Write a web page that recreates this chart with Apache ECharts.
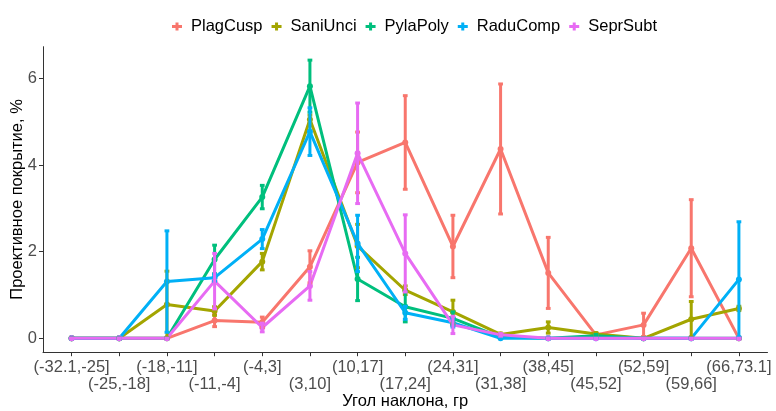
<!DOCTYPE html>
<html>
<head>
<meta charset="utf-8">
<script src="https://cdn.jsdelivr.net/npm/echarts@6/dist/echarts.min.js"></script>
<style>
html,body{margin:0;padding:0;background:#fff;}
#chart{width:776px;height:411px;}
</style>
</head>
<body>
<div id="chart"></div>
<script>
// ---- data ----
const categories = ['(-32.1,-25]','(-25,-18]','(-18,-11]','(-11,-4]','(-4,3]','(3,10]','(10,17]','(17,24]','(24,31]','(31,38]','(38,45]','(45,52]','(52,59]','(59,66]','(66,73.1]'];
const seriesNames = ['PlagCusp','SaniUnci','PylaPoly','RaduComp','SeprSubt'];

const plagCusp   = [0, 0, 0, 0.41, 0.37, 1.65, 4.06, 4.52, 2.12, 4.37, 1.51, 0.08, 0.31, 2.08, 0];
const plagCuspSe = [0, 0, 0, 0.14, 0.12, 0.37, 0.70, 1.08, 0.72, 1.50, 0.82, 0.03, 0.27, 1.12, 0];

const saniUnci   = [0, 0, 0.78, 0.63, 1.77, 5.05, 2.13, 1.11, 0.61, 0.09, 0.25, 0.10, 0, 0.44, 0.69];
const saniUnciSe = [0, 0, 0.77, 0.10, 0.19, 0.10, 0.50, 0.10, 0.27, 0.03, 0.13, 0.03, 0, 0.41, 0.05];

const pylaPoly   = [0, 0, 0, 1.82, 3.26, 5.82, 1.37, 0.73, 0.46, 0.03, 0, 0.06, 0, 0, 0];
const pylaPolySe = [0, 0, 0, 0.33, 0.27, 0.60, 0.50, 0.35, 0.15, 0.02, 0, 0.03, 0, 0, 0];

const raduComp   = [0, 0, 1.31, 1.40, 2.29, 4.77, 2.19, 0.59, 0.36, 0, 0, 0, 0, 0, 1.36];
const raduCompSe = [0, 0, 1.17, 0.08, 0.22, 0.55, 0.65, 0.15, 0.10, 0, 0, 0, 0, 0, 1.33];

const seprSubt   = [0, 0, 0, 1.32, 0.25, 1.21, 4.27, 1.96, 0.31, 0.08, 0, 0, 0, 0, 0];
const seprSubtSe = [0, 0, 0, 0.64, 0.10, 0.33, 1.16, 0.89, 0.20, 0.03, 0, 0, 0, 0, 0];

const yTicks = [0, 2, 4, 6];

// ---- styling ----
const colors = ['#F8766D','#A3A500','#00BF7D','#00B0F6','#E76BF3'];
const FONT = 'Liberation Sans, Arial, sans-serif';
const means = [plagCusp, saniUnci, pylaPoly, raduComp, seprSubt];
const ses = [plagCuspSe, saniUnciSe, pylaPolySe, raduCompSe, seprSubtSe];
const xIdx = categories.map((c, i) => i);
const xEven = xIdx.filter(i => i % 2 === 0);
const xOdd = xIdx.filter(i => i % 2 === 1);

const series = [];
seriesNames.forEach((name, k) => {
  series.push({
    name: name,
    type: 'line',
    data: means[k].map((v, i) => [i, v]),
    symbol: 'circle',
    symbolSize: 6,
    showSymbol: true,
    itemStyle: {color: colors[k]},
    lineStyle: {color: colors[k], width: 3},
    z: 2 + k * 0.01,
    silent: true,
    animation: false
  });
});
seriesNames.forEach((name, k) => {
  series.push({
    name: name,
    type: 'custom',
    data: means[k].map((v, i) => [i, v - ses[k][i], v + ses[k][i]]),
    renderItem: function (params, api) {
      const x = api.value(0);
      const lo = api.coord([x, api.value(1)]);
      const hi = api.coord([x, api.value(2)]);
      const hw = api.size([0.05, 0])[0];
      const st = {stroke: colors[k], lineWidth: 3, fill: null};
      return {
        type: 'group',
        children: [
          {type: 'line', shape: {x1: lo[0], y1: lo[1], x2: hi[0], y2: hi[1]}, style: st},
          {type: 'line', shape: {x1: lo[0] - hw, y1: lo[1], x2: lo[0] + hw, y2: lo[1]}, style: st},
          {type: 'line', shape: {x1: hi[0] - hw, y1: hi[1], x2: hi[0] + hw, y2: hi[1]}, style: st}
        ]
      };
    },
    itemStyle: {color: colors[k]},
    z: 3 + k * 0.01,
    silent: true,
    animation: false
  });
});

const plusIcon = 'path://M0,2.5H10V5.5H0Z M3.5,0H6.5V8H3.5Z';

const labelBase = {
  showMinLabel: true,
  showMaxLabel: true,
  hideOverlap: false,
  fontSize: 16.5,
  color: '#4D4D4D',
  fontFamily: FONT,
  formatter: function (v) { return categories[Math.round(v)]; }
};

const chart = echarts.init(document.getElementById('chart'), null, {renderer: 'canvas'});
chart.setOption({
  backgroundColor: '#fff',
  animation: false,
  textStyle: {fontFamily: FONT},
  color: colors,
  legend: {
    top: 13,
    left: 167,
    itemWidth: 10,
    itemHeight: 8,
    itemGap: 9,
    data: seriesNames.map(n => ({name: n, icon: plusIcon})),
    textStyle: {fontSize: 16.5, color: '#000', fontFamily: FONT, padding: [0, 0, 0, 4]},
    selectedMode: false
  },
  grid: {left: 43, right: 8.5, top: 46.7, bottom: 58.8, containLabel: false, outerBoundsMode: 'none'},
  xAxis: [{
    type: 'value',
    position: 'bottom',
    min: -0.6,
    max: 14.6,
    name: 'Угол наклона, гр',
    nameLocation: 'middle',
    nameGap: 41,
    nameMoveOverlap: false,
    nameTextStyle: {fontSize: 16.5, color: '#000', fontFamily: FONT},
    axisLine: {show: true, onZero: false, lineStyle: {color: '#333', width: 1}},
    axisTick: {show: true, length: 4, customValues: xIdx, lineStyle: {color: '#333'}},
    axisLabel: Object.assign({customValues: xEven, margin: 7}, labelBase),
    splitLine: {show: false}
  }, {
    type: 'value',
    position: 'bottom',
    offset: 0,
    min: -0.6,
    max: 14.6,
    axisLine: {show: false, onZero: false},
    axisTick: {show: false},
    axisLabel: Object.assign({customValues: xOdd, margin: 24}, labelBase),
    splitLine: {show: false}
  }],
  yAxis: {
    type: 'value',
    min: -0.32,
    max: 6.73,
    name: 'Проективное покрытие, %',
    nameLocation: 'middle',
    nameGap: 17,
    nameMoveOverlap: false,
    nameTextStyle: {fontSize: 16.5, color: '#000', fontFamily: FONT},
    axisLine: {show: true, onZero: false, lineStyle: {color: '#333', width: 1}},
    axisTick: {show: true, length: 4, customValues: yTicks, lineStyle: {color: '#333'}},
    axisLabel: {customValues: yTicks, showMinLabel: true, showMaxLabel: true, margin: 6, fontSize: 16.5, color: '#4D4D4D', fontFamily: FONT},
    splitLine: {show: false}
  },
  series: series
});
</script>
</body>
</html>
